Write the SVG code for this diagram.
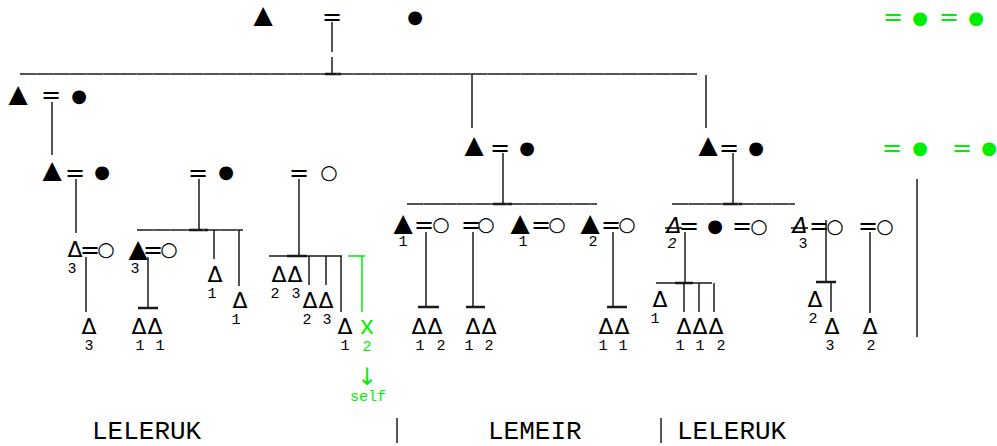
<svg xmlns="http://www.w3.org/2000/svg" width="997" height="446" viewBox="0 0 997 446">
<style>
.sy{font-family:"DejaVu Sans",sans-serif;text-anchor:middle;fill:#000}
.tri{font-size:25px}
.del{font-size:22px}
.dot{font-size:18px}
.ring{font-size:20px}
.eq{font-family:"DejaVu Sans",sans-serif;font-size:24px;text-anchor:middle;fill:#000}
.n{font-family:"Liberation Mono",monospace;font-size:15px;text-anchor:middle;fill:#000}
.it{font-style:italic}
.g{fill:#00ee00}
.lab{font-family:"Liberation Mono",monospace;font-size:26px;fill:#000}
.ln line{stroke:#1a1a1a;stroke-width:1.5}
.ln line.t{stroke-width:2.5}
.tk line{stroke:#999;stroke-width:2.5;stroke-dasharray:1 15.7;opacity:.6}
.gl line{stroke:#00ee00;stroke-width:1.5}
</style>
<rect width="997" height="446" fill="#fff"/>

<g id="connectors" class="ln">
<line x1="332" y1="22" x2="332" y2="52"/>
<line x1="332" y1="57" x2="332" y2="74"/>
<line class="t" x1="325" y1="74" x2="341" y2="74"/>
<line x1="20" y1="74" x2="697" y2="74"/>
<line x1="472" y1="74" x2="472" y2="128"/>
<line x1="706" y1="75" x2="706" y2="128"/>
<line x1="52" y1="102" x2="52" y2="155"/>
<line x1="76" y1="179" x2="76" y2="233"/>
<line x1="86" y1="257" x2="86" y2="312"/>
<line x1="148" y1="257" x2="148" y2="308"/>
<line class="t" x1="138" y1="308" x2="158" y2="308"/>
<line x1="199" y1="179" x2="199" y2="230"/>
<line x1="137" y1="230" x2="243" y2="230"/>
<line class="t" x1="189" y1="230" x2="208" y2="230"/>
<line x1="214" y1="230" x2="214" y2="259"/>
<line x1="239" y1="230" x2="239" y2="286"/>
<line x1="299" y1="179" x2="299" y2="256"/>
<line x1="269" y1="256" x2="342" y2="256"/>
<line class="t" x1="287" y1="256" x2="307" y2="256"/>
<line x1="309" y1="256" x2="309" y2="285"/>
<line x1="326" y1="256" x2="326" y2="285"/>
<line x1="341" y1="256" x2="341" y2="312"/>
<line x1="503" y1="153" x2="503" y2="204"/>
<line x1="407" y1="204" x2="597" y2="204"/>
<line class="t" x1="493" y1="204" x2="512" y2="204"/>
<line x1="426" y1="232" x2="426" y2="307"/>
<line class="t" x1="418" y1="307" x2="439" y2="307"/>
<line x1="473" y1="232" x2="473" y2="307"/>
<line class="t" x1="466" y1="307" x2="485" y2="307"/>
<line x1="613" y1="232" x2="613" y2="307"/>
<line class="t" x1="607" y1="307" x2="627" y2="307"/>
<line x1="733" y1="153" x2="733" y2="204"/>
<line x1="672" y1="204" x2="795" y2="204"/>
<line class="t" x1="723" y1="204" x2="742" y2="204"/>
<line x1="685" y1="232" x2="685" y2="283"/>
<line x1="656" y1="283" x2="712" y2="283"/>
<line class="t" x1="675" y1="283" x2="693" y2="283"/>
<line x1="684" y1="283" x2="684" y2="312"/>
<line x1="699" y1="283" x2="699" y2="312"/>
<line x1="714" y1="283" x2="714" y2="312"/>
<line x1="826" y1="220" x2="826" y2="282"/>
<line class="t" x1="816" y1="282" x2="836" y2="282"/>
<line x1="831" y1="282" x2="831" y2="312"/>
<line x1="870" y1="232" x2="870" y2="313"/>
<line x1="917" y1="179" x2="917" y2="337"/>
<line x1="397" y1="418" x2="397" y2="443"/>
<line x1="661" y1="418" x2="661" y2="443"/>
</g>
<g id="connector-ticks" class="tk">
<line x1="36" y1="74" x2="697" y2="74"/>
<line x1="153" y1="230" x2="243" y2="230"/>
<line x1="423" y1="204" x2="597" y2="204"/>
<line x1="688" y1="204" x2="795" y2="204"/>
</g>
<g id="green-connectors" class="gl">
<line x1="348" y1="256" x2="365" y2="256"/>
<line x1="362" y1="256" x2="362" y2="312"/>
</g>

<g id="n-top"><text class="sy tri" x="263" y="23">▲</text><text class="eq" x="332" y="25">=</text><text class="sy dot" x="415" y="23">●</text></g>
<g id="n-top-green"><text class="eq g" x="893" y="25">=</text><text class="sy dot g" x="920" y="24">●</text><text class="eq g" x="949" y="25">=</text><text class="sy dot g" x="976" y="24">●</text></g>

<g id="n-b1"><text class="sy tri" x="18" y="102">▲</text><text class="eq" x="51" y="103">=</text><text class="sy dot" x="79" y="102">●</text></g>
<g id="n-c1"><text class="sy tri" x="52" y="178">▲</text><text class="eq" x="75" y="181">=</text><text class="sy dot" x="102" y="178">●</text></g>
<g id="n-c2"><text class="eq" x="198" y="181">=</text><text class="sy dot" x="226" y="178">●</text></g>
<g id="n-c3"><text class="eq" x="299" y="181">=</text><text class="sy ring" x="329" y="179">○</text></g>

<g id="n-d1"><text class="sy del" x="75" y="257">Δ</text><text class="eq" x="90" y="258">=</text><text class="sy ring" x="106" y="256">○</text><text class="n" x="72" y="273">3</text></g>
<g id="n-d2"><text class="sy tri" x="138" y="257">▲</text><text class="eq" x="153" y="258">=</text><text class="sy ring" x="169" y="256">○</text><text class="n" x="135" y="273">3</text></g>

<g id="n-e1"><text class="sy del" x="89" y="334">Δ</text><text class="n" x="89" y="350">3</text></g>
<g id="n-e2"><text class="sy del" x="139" y="334">Δ</text><text class="sy del" x="155" y="334">Δ</text><text class="n" x="140" y="350">1</text><text class="n" x="160" y="350">1</text></g>
<g id="n-e3"><text class="sy del" x="215" y="282">Δ</text><text class="n" x="212" y="298">1</text></g>
<g id="n-e4"><text class="sy del" x="240" y="308">Δ</text><text class="n" x="236" y="324">1</text></g>
<g id="n-e5"><text class="sy del" x="279" y="282">Δ</text><text class="sy del" x="295" y="282">Δ</text><text class="n" x="275" y="298">2</text><text class="n" x="296" y="298">3</text></g>
<g id="n-e6"><text class="sy del" x="310" y="308">Δ</text><text class="sy del" x="326" y="308">Δ</text><text class="n" x="307" y="324">2</text><text class="n" x="327" y="324">3</text></g>
<g id="n-e7"><text class="sy del" x="345" y="334">Δ</text><text class="n" x="345" y="350">1</text></g>
<g id="n-self"><text class="g" x="367" y="334" style="font-family:'Liberation Mono',monospace;font-size:25px;text-anchor:middle">x</text><text class="n g" x="367" y="351">2</text><text class="sy g" x="367" y="385" style="font-size:24px">↓</text><text class="n g" x="368" y="401">self</text></g>

<g id="n-m"><text class="sy tri" x="474" y="153">▲</text><text class="eq" x="500" y="156">=</text><text class="sy dot" x="527" y="154">●</text></g>
<g id="n-m1"><text class="sy tri" x="403" y="231">▲</text><text class="n" x="403" y="246">1</text><text class="eq" x="424" y="233">=</text><text class="sy ring" x="441" y="231">○</text></g>
<g id="n-m2"><text class="eq" x="471" y="233">=</text><text class="sy ring" x="486" y="231">○</text></g>
<g id="n-m3"><text class="sy tri" x="520" y="231">▲</text><text class="n" x="523" y="246">1</text><text class="eq" x="541" y="233">=</text><text class="sy ring" x="557" y="231">○</text></g>
<g id="n-m4"><text class="sy tri" x="590" y="231">▲</text><text class="n" x="593" y="246">2</text><text class="eq" x="611" y="233">=</text><text class="sy ring" x="627" y="231">○</text></g>
<g id="n-m1c"><text class="sy del" x="419" y="334">Δ</text><text class="sy del" x="435" y="334">Δ</text><text class="n" x="420" y="350">1</text><text class="n" x="441" y="350">2</text></g>
<g id="n-m2c"><text class="sy del" x="473" y="334">Δ</text><text class="sy del" x="489" y="334">Δ</text><text class="n" x="469" y="350">1</text><text class="n" x="489" y="350">2</text></g>
<g id="n-m4c"><text class="sy del" x="606" y="334">Δ</text><text class="sy del" x="622" y="334">Δ</text><text class="n" x="603" y="350">1</text><text class="n" x="623" y="350">1</text></g>

<g id="n-r"><text class="sy tri" x="708" y="153">▲</text><text class="eq" x="729" y="156">=</text><text class="sy dot" x="756" y="154">●</text></g>
<g id="n-r-green"><text class="eq g" x="892" y="156">=</text><text class="sy dot g" x="920" y="154">●</text><text class="eq g" x="962" y="156">=</text><text class="sy dot g" x="989" y="154">●</text></g>
<g id="n-r1"><text class="sy del it" x="674" y="233">Δ</text><line x1="665" y1="228" x2="682" y2="228" stroke="#000" stroke-width="1.5"/><text class="n it" x="672" y="248">2</text><text class="eq" x="689" y="234">=</text><text class="sy dot" x="715" y="232">●</text><text class="eq" x="742" y="234">=</text><text class="sy ring" x="759" y="233">○</text></g>
<g id="n-r2"><text class="sy del it" x="800" y="233">Δ</text><line x1="791" y1="228" x2="808" y2="228" stroke="#000" stroke-width="1.5"/><text class="n" x="803" y="248">3</text><text class="eq" x="819" y="234">=</text><text class="sy ring" x="835" y="233">○</text></g>
<g id="n-r3"><text class="eq" x="868" y="234">=</text><text class="sy ring" x="885" y="233">○</text></g>
<g id="n-r1c"><text class="sy del" x="660" y="307">Δ</text><text class="n" x="655" y="323">1</text><text class="sy del" x="684" y="334">Δ</text><text class="sy del" x="700" y="334">Δ</text><text class="sy del" x="716" y="334">Δ</text><text class="n" x="680" y="350">1</text><text class="n" x="700" y="350">1</text><text class="n" x="721" y="350">2</text></g>
<g id="n-r2c"><text class="sy del" x="815" y="307">Δ</text><text class="n" x="813" y="323">2</text><text class="sy del" x="832" y="334">Δ</text><text class="n" x="830" y="350">3</text></g>
<g id="n-r3c"><text class="sy del" x="870" y="334">Δ</text><text class="n" x="871" y="350">2</text></g>

<g id="labels"><text class="lab" x="92" y="439">LELERUK</text><text class="lab" x="488" y="439">LEMEIR</text><text class="lab" x="677" y="439">LELERUK</text></g>
</svg>
